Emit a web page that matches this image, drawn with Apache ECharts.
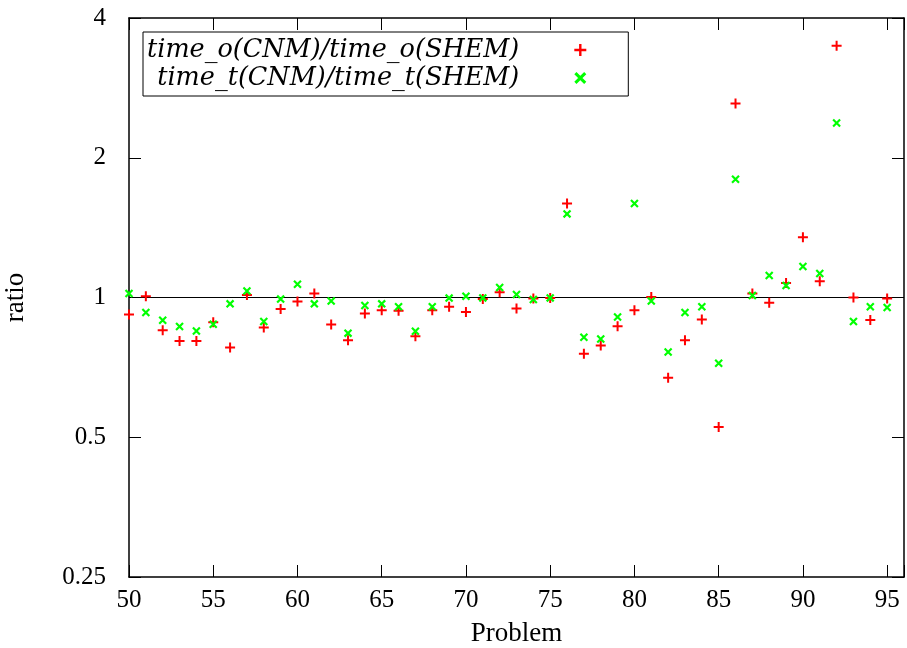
<!DOCTYPE html>
<html>
<head>
<meta charset="utf-8">
<script src="https://cdn.jsdelivr.net/npm/echarts@6/dist/echarts.min.js"></script>
<style>
html,body{margin:0;padding:0;background:#fff;}
#chart{width:907px;height:648px;}
</style>
</head>
<body>
<div id="chart"></div>
<script>
const problems = [50,51,52,53,54,55,56,57,58,59,60,61,62,63,64,65,66,67,68,69,70,71,72,73,74,75,76,77,78,79,80,81,82,83,84,85,86,87,88,89,90,91,92,93,94,95];
const timeO = [0.919,1.006,0.850,0.806,0.806,0.885,0.780,1.013,0.862,0.944,0.980,1.020,0.875,0.809,0.924,0.939,0.936,0.825,0.939,0.955,0.931,0.993,1.027,0.947,0.995,0.998,1.594,0.757,0.788,0.867,0.939,1.003,0.672,0.809,0.897,0.526,2.617,1.020,0.974,1.075,1.349,1.084,3.487,1.000,0.894,0.995];
const timeT = [1.020,0.928,0.893,0.866,0.847,0.876,0.969,1.033,0.888,0.992,1.068,0.969,0.983,0.838,0.961,0.969,0.955,0.846,0.955,0.997,1.006,0.998,1.051,1.015,0.990,0.998,1.514,0.821,0.814,0.908,1.594,0.983,0.763,0.928,0.955,0.722,1.797,1.010,1.115,1.061,1.166,1.126,2.377,0.888,0.955,0.952];
const yTicks = [0.25, 0.5, 1, 2, 4];
const seriesNames = ['time_o(CNM)/time_o(SHEM)', 'time_t(CNM)/time_t(SHEM)'];

const plusPath = 'path://M4,0H6V4H10V6H6V10H4V6H0V4H4Z';
const crossPath = 'path://M0,1.8L1.8,0L10,8.2L8.2,10Z M8.2,0L10,1.8L1.8,10L0,8.2Z';

const serif = 'Liberation Serif';
const axisLineStyle = {color:'#000', width:1.5};
function xAxisCfg(pos, labels){
  return {
    type:'value', min:50, max:96, interval:5, position:pos,
    axisLine:{show:true, onZero:false, lineStyle:axisLineStyle},
    axisTick:{show:true, inside:true, length:12, lineStyle:{color:'#000', width:1}},
    axisLabel:{show:labels, margin:11, fontSize:25, fontFamily:serif, color:'#000',
      formatter: v => (v > 95 ? '' : String(v))},
    splitLine:{show:false}
  };
}
function yAxisCfg(pos, labels){
  return {
    type:'log', logBase:2, min:0.25, max:4, position:pos,
    axisLine:{show:true, onZero:false, lineStyle:axisLineStyle},
    axisTick:{show:true, inside:true, length:12, lineStyle:{color:'#000', width:1}},
    axisLabel:{show:labels, margin:23, fontSize:25, fontFamily:serif, color:'#000',
      formatter: v => { const r = yTicks.find(t => Math.abs(t - v) < 1e-6); return r === undefined ? '' : String(r); }},
    splitLine:{show:false}
  };
}
const xa0 = xAxisCfg('bottom', true);
xa0.name = 'Problem'; xa0.nameLocation = 'middle'; xa0.nameGap = 43;
xa0.nameTextStyle = {fontSize:27, fontFamily:serif, color:'#000'};
const ya0 = yAxisCfg('left', true);
ya0.name = 'ratio'; ya0.nameLocation = 'middle'; ya0.nameGap = 100; ya0.nameRotate = 90;
ya0.nameTextStyle = {fontSize:27, fontFamily:serif, color:'#000'};

const chart = echarts.init(document.getElementById('chart'), null, {renderer:'canvas'});
chart.setOption({
  animation:false,
  backgroundColor:'#fff',
  grid:{left:129, right:3, top:18, bottom:71, containLabel:false, outerBoundsMode:'none'},
  xAxis:[xa0, xAxisCfg('top', false)],
  yAxis:[ya0, yAxisCfg('right', false)],
  legend:{
    orient:'vertical', left:143, top:32, align:'right',
    backgroundColor:'#fff', borderColor:'#000', borderWidth:1,
    padding:[4, 42, 4, 4], itemGap:0, itemWidth:12, itemHeight:12,
    textStyle:{fontFamily:'DejaVu Serif', fontStyle:'italic', fontSize:25.5, color:'#000', lineHeight:28, padding:[0,50,0,0]},
    data:seriesNames
  },
  series:[
    {
      name:seriesNames[0], type:'scatter', xAxisIndex:0, yAxisIndex:0,
      symbol:plusPath, symbolSize:10, symbolKeepAspect:true,
      itemStyle:{color:'#ff0000', opacity:1},
      data: problems.map((p,i) => [p, timeO[i]]),
      z:3,
      markLine:{
        silent:true, symbol:['none','none'], label:{show:false},
        lineStyle:{color:'#000', width:1, type:'solid'},
        emphasis:{disabled:true},
        data:[{yAxis:1}], z:1
      }
    },
    {
      name:seriesNames[1], type:'scatter', xAxisIndex:0, yAxisIndex:0,
      symbol:crossPath, symbolSize:8.5, symbolKeepAspect:true,
      itemStyle:{color:'#00ff00', opacity:1},
      data: problems.map((p,i) => [p, timeT[i]]),
      z:4
    }
  ]
});
</script>
</body>
</html>
